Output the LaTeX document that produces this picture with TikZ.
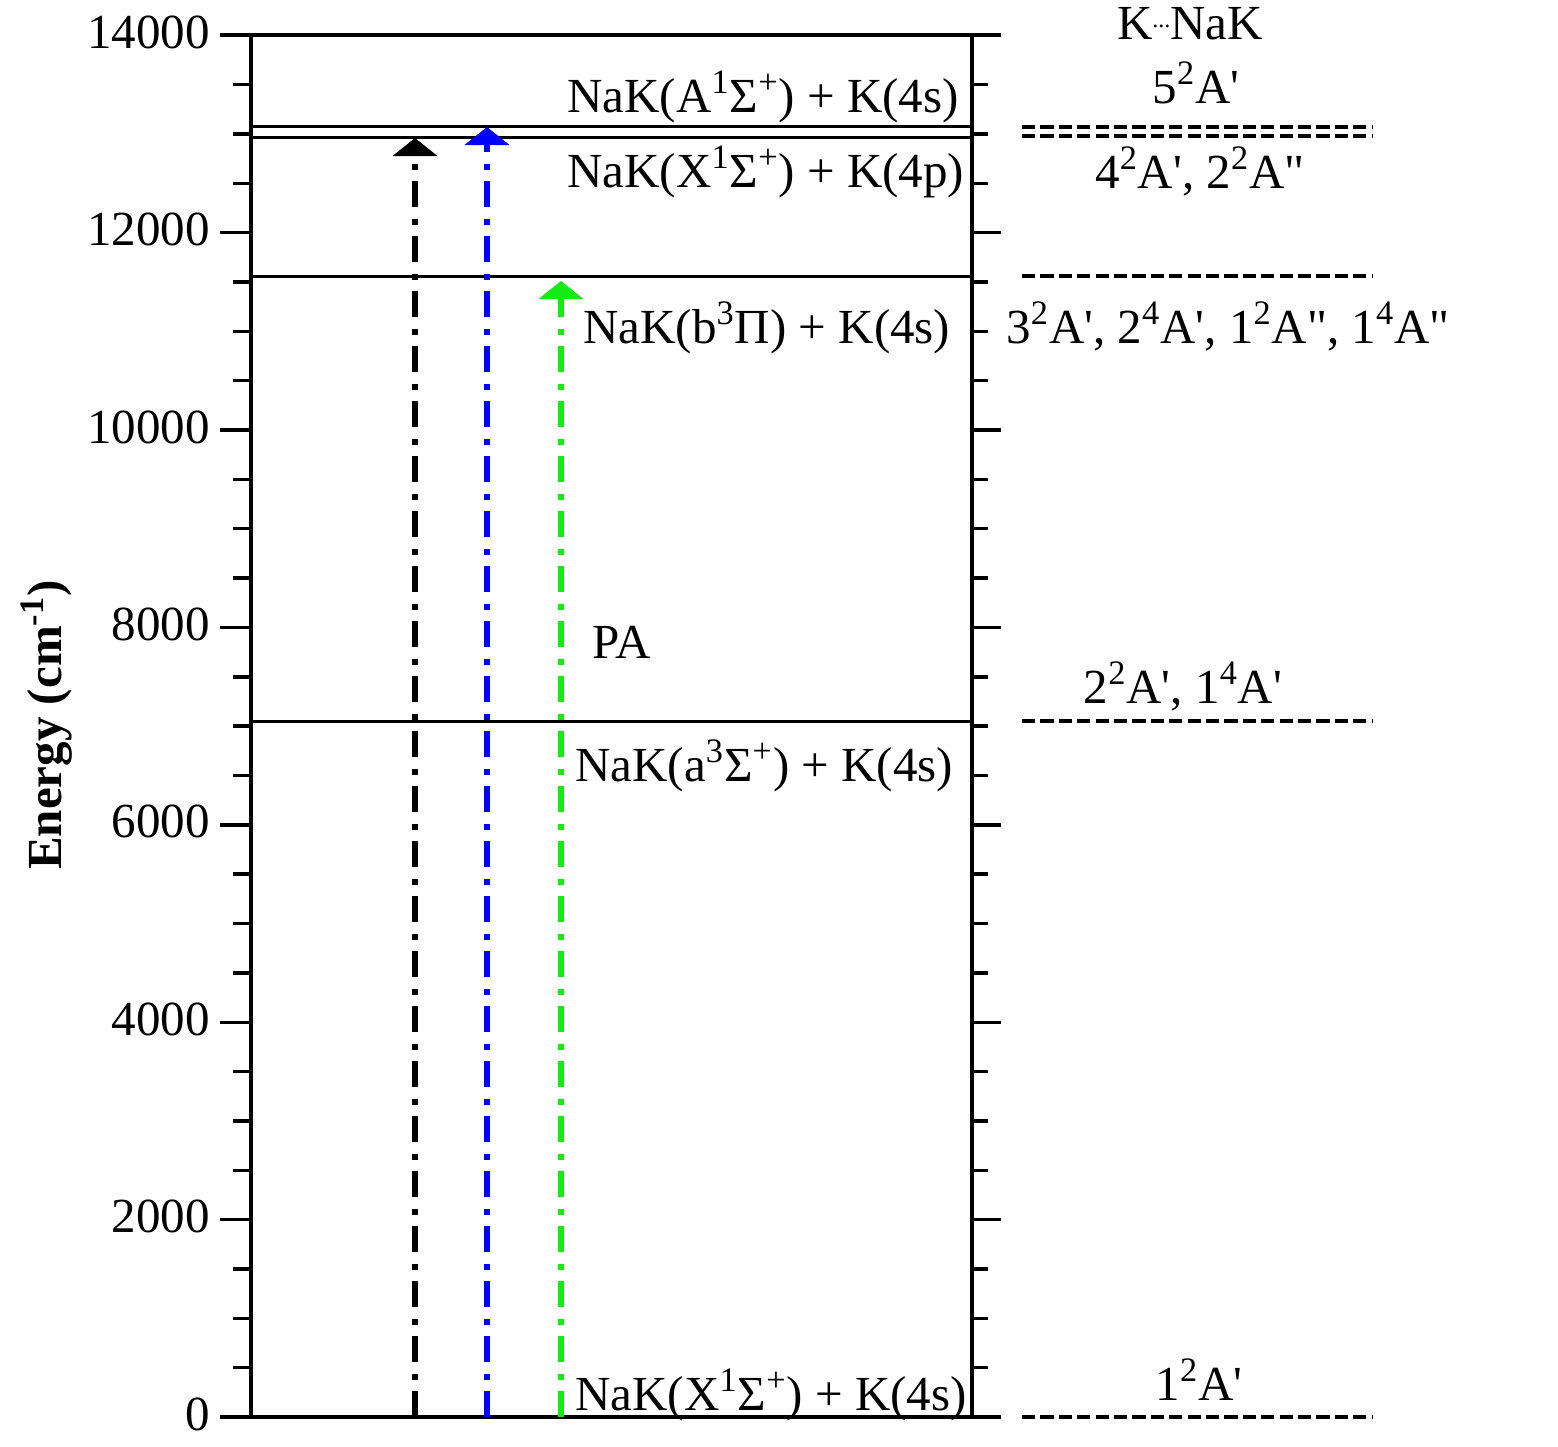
\documentclass[tikz,border=0pt]{standalone}
\usepackage{fontspec}
\setmainfont{Liberation Serif}[Ligatures=TeXOff]
\usetikzlibrary{arrows.meta}
\definecolor{arrblue}{RGB}{0,0,255}
\definecolor{arrgreen}{RGB}{20,235,20}
\newcommand{\su}[1]{\textsuperscript{#1}}
\begin{document}
\begin{tikzpicture}[x=0.5pt,y=-0.5pt,
  lbl/.style={font=\fontsize{24.5pt}{29pt}\selectfont, inner sep=0pt},
  ylbl/.style={font=\fontsize{24.5pt}{29pt}\selectfont\bfseries, inner sep=0pt},
  level/.style={line width=1.5pt},
  axis/.style={line width=1.7pt},
  corr/.style={line width=1.7pt, dash pattern=on 6.6pt off 2.6pt},
  trans/.style={line width=3.4pt, dash pattern=on 13pt off 5.5pt on 3pt off 6pt, -{Triangle[width=22pt,length=9pt]}}]
\useasboundingbox (0,0) rectangle (1558,1446);
% minor ticks
\foreach \e in {500,1000,...,13500}{
  \draw[axis] (233,{1417-\e*0.0987}) -- (251,{1417-\e*0.0987});
  \draw[axis] (972,{1417-\e*0.0987}) -- (988,{1417-\e*0.0987});
}
% major ticks and labels
\foreach \e in {0,2000,...,14000}{
  \draw[axis] (220,{1417-\e*0.0987}) -- (251,{1417-\e*0.0987});
  \draw[axis] (972,{1417-\e*0.0987}) -- (1001,{1417-\e*0.0987});
  \node[lbl,anchor=base east] (tl\e) at (210,{1417-\e*0.0987+13}) {\e};
}
% frame
\draw[axis] (220,35) -- (1001,35);
\draw[axis] (220,1417) -- (1001,1417);
\draw[axis] (251,35) -- (251,1417);
\draw[axis] (972,35) -- (972,1417);
% levels
\draw[level] (251,126) -- (972,126);
\draw[level] (251,137) -- (972,137);
\draw[level] (251,276) -- (972,276);
\draw[level] (251,721) -- (972,721);
% correlation dashed lines
\draw[corr] (1022,127) -- (1373,127);
\draw[corr] (1022,136) -- (1373,136);
\draw[corr] (1022,276) -- (1373,276);
\draw[corr] (1022,721) -- (1373,721);
\draw[corr] (1022,1417) -- (1373,1417);
% transitions
\coordinate (b0) at (415,1417); \coordinate (b1) at (415,138);
\coordinate (u0) at (487,1417); \coordinate (u1) at (487,127);
\coordinate (g0) at (561,1417); \coordinate (g1) at (561,281);
\draw[trans,black] (b0) -- (b1);
\draw[trans,arrblue] (u0) -- (u1);
\draw[trans,arrgreen] (g0) -- (g1);
% left labels
\node[lbl,anchor=base west] (lA) at (567,112) {NaK(A\su{1}Σ\su{+}) + K(4s)};
\node[lbl,anchor=base west] (lX4p) at (567,187) {NaK(X\su{1}Σ\su{+}) + K(4p)};
\node[lbl,anchor=base west] (lb) at (583,343) {NaK(b\su{3}Π) + K(4s)};
\node[lbl,anchor=base west] (lPA) at (592,658) {PA};
\node[lbl,anchor=base west] (la) at (575,781) {NaK(a\su{3}Σ\su{+}) + K(4s)};
\node[lbl,anchor=base west] (lX) at (575,1410) {NaK(X\su{1}Σ\su{+}) + K(4s)};
% right labels
\node[lbl,anchor=base] (rT) at (1190,39) {K\raisebox{6pt}{\fontsize{12pt}{12pt}\selectfont ...}NaK};
\node[lbl,anchor=base] (r5) at (1196,103) {5\su{2}A'};
\node[lbl,anchor=base] (r4) at (1200,188) {4\su{2}A', 2\su{2}A"};
\node[lbl,anchor=base] (r3) at (1228,343) {3\su{2}A', 2\su{4}A', 1\su{2}A", 1\su{4}A"};
\node[lbl,anchor=base] (r2) at (1183,703) {2\su{2}A', 1\su{4}A'};
\node[lbl,anchor=base] (r1) at (1199,1400) {1\su{2}A'};
% y label
\node[ylbl,rotate=90] (ylab) at (47,725) {Energy (cm\su{-1})};
\end{tikzpicture}
\end{document}
